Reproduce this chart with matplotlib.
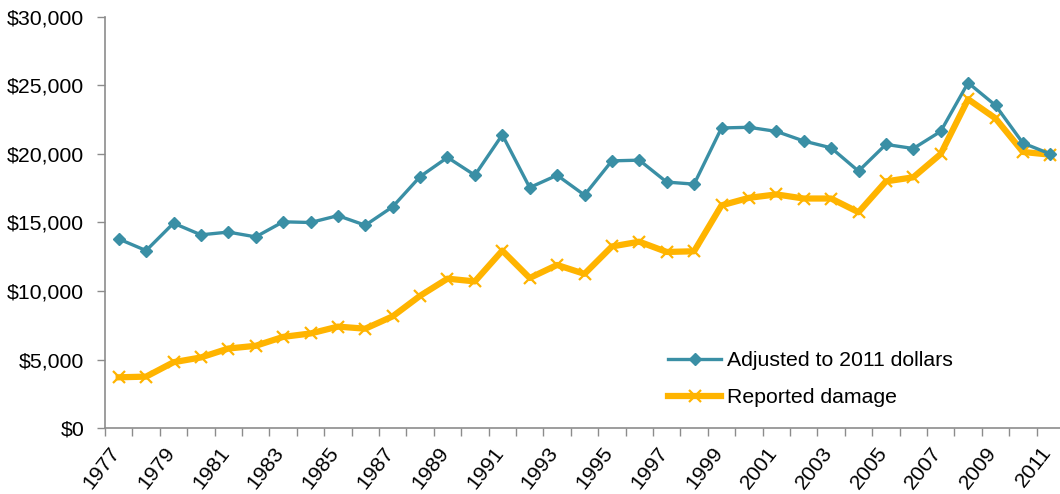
import matplotlib
matplotlib.use("Agg")
import matplotlib.pyplot as plt
import matplotlib.transforms as mtransforms
from matplotlib.ticker import FuncFormatter

plt.rcParams['font.family'] = ['Liberation Sans', 'DejaVu Sans']

years = list(range(1977, 2012))
adjusted = [13800, 12950, 14950, 14100, 14300, 13950, 15050, 15000, 15500, 14800,
            16150, 18350, 19750, 18450, 21400, 17550, 18450, 17000, 19500, 19550,
            17950, 17800, 21900, 21950, 21650, 20950, 20450, 18750, 20700, 20400,
            21650, 25200, 23550, 20800, 20000]
reported = [3700, 3750, 4800, 5150, 5800, 6000, 6650, 6900, 7400, 7250,
            8150, 9650, 10900, 10700, 12950, 10950, 11900, 11250, 13250, 13600,
            12850, 12900, 16250, 16800, 17050, 16750, 16750, 15750, 18000, 18300,
            20000, 24000, 22600, 20150, 19950]

teal = "#3A8FA5"
gold = "#FFB400"
grey = "#8C8C8C"
fs = 15.3

fig = plt.figure(figsize=(10.6, 4.94), dpi=100)
ax = fig.add_axes([105 / 1060, 66 / 494, 959 / 1060, 411 / 494])

x = list(range(len(years)))
ax.plot(x, adjusted, color=teal, lw=2.4, marker="D", ms=6, mec=teal, mfc=teal,
        label="Adjusted to 2011 dollars", zorder=3)
ax.plot(x, reported, color=gold, lw=4.5, marker="x", ms=9, mew=1.6, mec=gold,
        label="Reported damage", zorder=2)

ax.set_xlim(-0.5, len(years) - 0.5)
ax.set_ylim(0, 30000)
ax.set_yticks(range(0, 30001, 5000))
ax.yaxis.set_major_formatter(FuncFormatter(lambda v, p: "${:,.0f}".format(v)))

ax.set_xticks(x[::2])
ax.set_xticks([i - 0.5 for i in range(len(years) + 1)], minor=True)
ax.tick_params(axis="x", which="major", length=0, pad=11, labelsize=fs)
ax.tick_params(axis="x", which="minor", length=6, width=1, color=grey, direction="out")
ax.tick_params(axis="y", length=6, width=1, color=grey, pad=9, labelsize=fs)
ax.set_xticklabels([str(y) for y in years[::2]], rotation=52, ha="right")
shift = mtransforms.ScaledTranslation(5 / 100, 0, fig.dpi_scale_trans)
for lab in ax.get_xticklabels():
    lab.set_transform(lab.get_transform() + shift)

for s in ("top", "right"):
    ax.spines[s].set_visible(False)
for s in ("left", "bottom"):
    ax.spines[s].set_color(grey)
    ax.spines[s].set_linewidth(1.2)

leg = ax.legend(loc="center left", bbox_to_anchor=(668 / 1060, 1 - 379 / 494),
                bbox_transform=fig.transFigure, frameon=False, fontsize=fs,
                handlelength=2.5, handletextpad=0.28, labelspacing=0.85, borderpad=0,
                borderaxespad=0)

fig.savefig("out.png", dpi=100)
